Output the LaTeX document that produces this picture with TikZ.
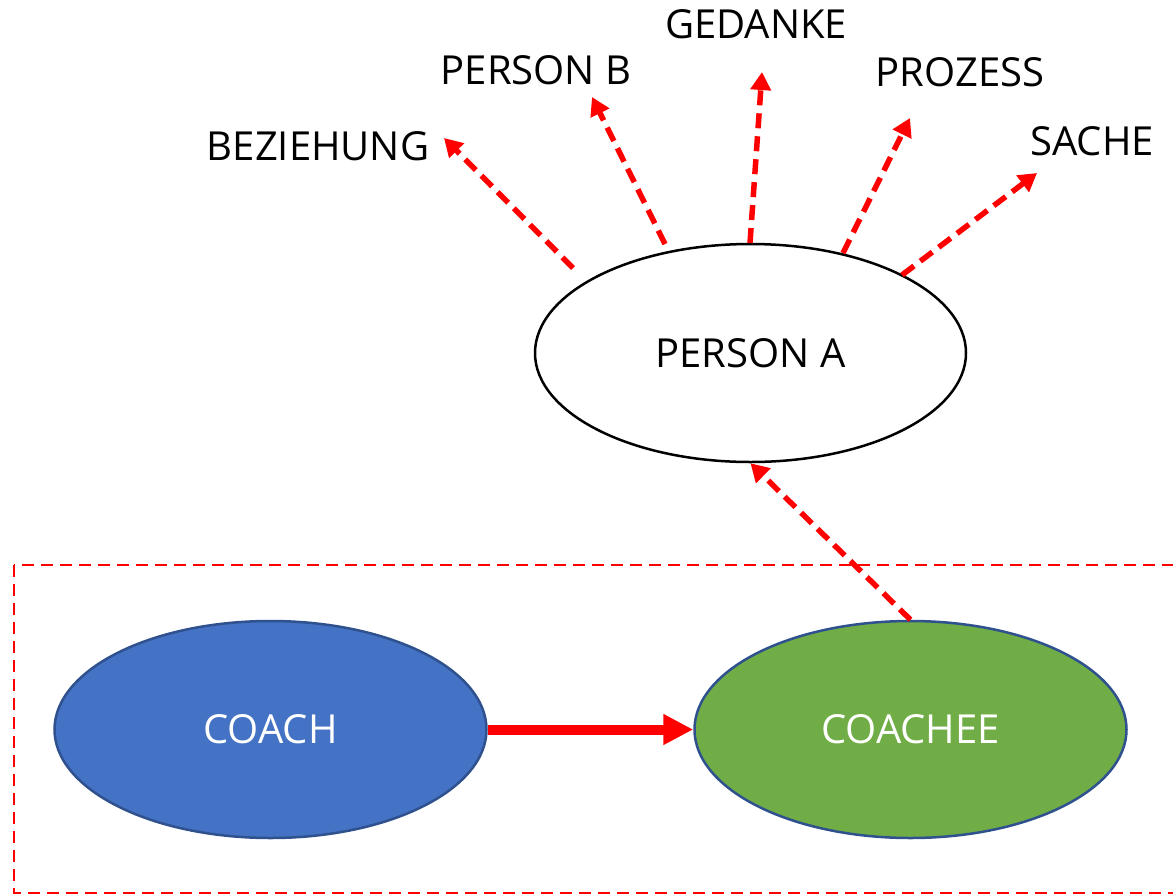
\documentclass[tikz,border=0pt]{standalone}
\usepackage{fontspec}
\setmainfont{Open Sans}
\usetikzlibrary{shapes.geometric,arrows.meta}
\definecolor{coachblue}{HTML}{4472C4}
\definecolor{coachgreen}{HTML}{70AD47}
\definecolor{rimblue}{HTML}{2F528F}
\definecolor{arrowred}{HTML}{FF0000}
\begin{document}
\begin{tikzpicture}[x=1pt,y=-1pt,
  every node/.style={font=\fontsize{40}{48}\selectfont, inner sep=0pt},
  oval/.style={ellipse, minimum width=432pt, minimum height=217pt, line width=2.5pt},
  label/.style={text=black},
  ray/.style={draw=arrowred, line width=5.5pt, dash pattern=on 15pt off 8pt,
    -{Triangle[length=18pt,width=20pt]}},
  push/.style={draw=arrowred, line width=10pt, -{Triangle[length=30pt,width=29pt]}},
  frame/.style={draw=arrowred, line width=2.2pt, dash pattern=on 12pt off 7pt}]
\useasboundingbox (0,0) rectangle (1173,895);

% context frame around coach and coachee
\draw[frame] (14,565) rectangle (1178,893);

% the three ellipses
\node[oval, draw=black, fill=white, minimum width=431pt, minimum height=218pt] (pa) at (750.5,353) {PERSON A};
\node[oval, draw=rimblue, fill=coachblue, text=white] (coach) at (270.5,729.5) {COACH};
\node[oval, draw=rimblue, fill=coachgreen, text=white] (coachee) at (910.5,729.5) {COACHEE};

% labels of the perspectives
\node[label] (bez) at (318,146) {BEZIEHUNG};
\node[label] (pb) at (536,70) {PERSON B};
\node[label] (ged) at (756,24) {GEDANKE};
\node[label] (pro) at (960,72) {PROZESS};
\node[label] (sac) at (1092,141) {SACHE};

% start and tip points of the perspective rays
\coordinate (s1) at (573,268);  \coordinate (t1) at (444,138);
\coordinate (s2) at (665,244);  \coordinate (t2) at (592,97);
\coordinate (s3) at (750,243);  \coordinate (t3) at (762,72);
\coordinate (s4) at (843,253);  \coordinate (t4) at (910,118);
\coordinate (s5) at (902,275);  \coordinate (t5) at (1037,173);

\draw[ray] (s1) -- (t1);
\draw[ray] (s2) -- (t2);
\draw[ray] (s3) -- (t3);
\draw[ray] (s4) -- (t4);
\draw[ray] (s5) -- (t5);

% coachee looks at person A
\draw[ray] (coachee.north) -- (pa.south);

% coach works with coachee
\draw[push] (coach.east) -- (coachee.west);
\end{tikzpicture}
\end{document}
